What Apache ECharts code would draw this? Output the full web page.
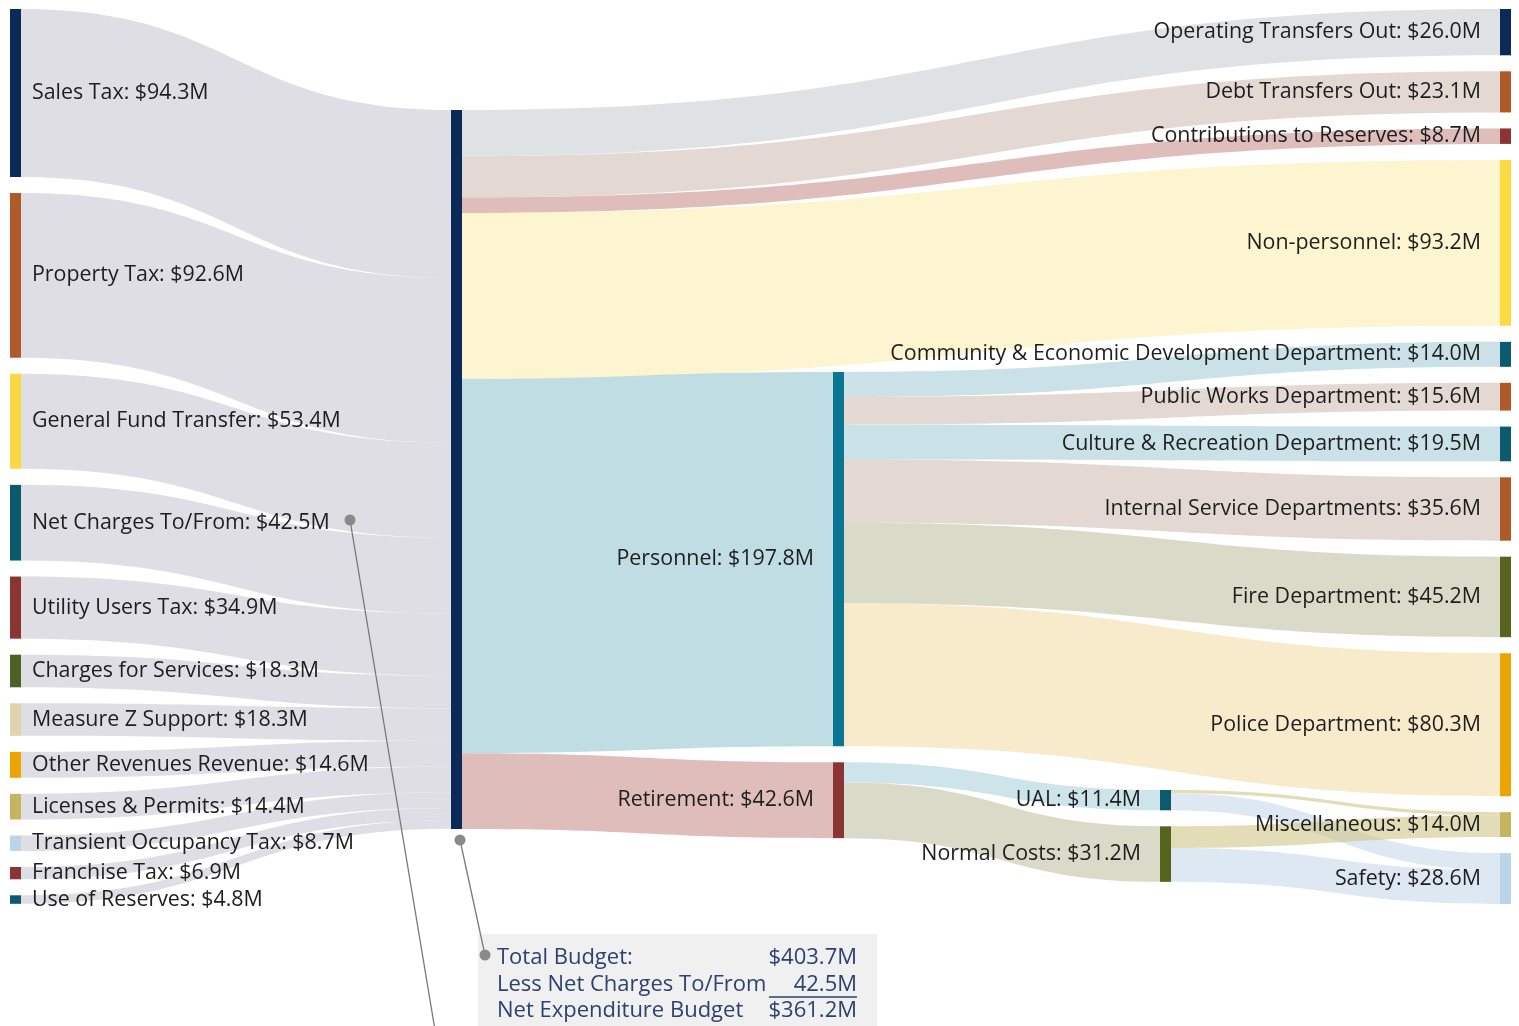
<!DOCTYPE html>
<html>
<head>
<meta charset="utf-8">
<title>Budget Sankey</title>
<script src="https://cdn.jsdelivr.net/npm/echarts@6/dist/echarts.min.js"></script>
<style>
  html, body { margin: 0; padding: 0; background: #fff; }
  #main { width: 1519px; height: 1026px; }
</style>
</head>
<body>
<div id="main"></div>
<script>
// revenue sources (left column)
const sources = ['Sales Tax', 'Property Tax', 'General Fund Transfer', 'Net Charges To/From',
  'Utility Users Tax', 'Charges for Services', 'Measure Z Support', 'Other Revenues Revenue',
  'Licenses & Permits', 'Transient Occupancy Tax', 'Franchise Tax', 'Use of Reserves']
const sourceValues = [94.3, 92.6, 53.4, 42.5, 34.9, 18.3, 18.3, 14.6, 14.4, 8.7, 6.9, 4.8]

// uses of the total budget
const uses = ['Operating Transfers Out', 'Debt Transfers Out', 'Contributions to Reserves',
  'Non-personnel', 'Personnel', 'Retirement']
const useValues = [26.0, 23.1, 8.7, 93.2, 210.2, 42.6] // flow widths
const useLabels = [26.0, 23.1, 8.7, 93.2, 197.8, 42.6] // amounts printed in labels

// personnel by department
const departments = ['Community & Economic Development Department', 'Public Works Department',
  'Culture & Recreation Department', 'Internal Service Departments', 'Fire Department', 'Police Department']
const departmentValues = [14.0, 15.6, 19.5, 35.6, 45.2, 80.3]

// retirement split
const retirementParts = ['UAL', 'Normal Costs']
const retirementValues = [11.4, 31.2]
const plans = ['Miscellaneous', 'Safety']
const planValues = [14.0, 28.6]
const ualToPlan = [1.8, 9.6]
const normalToPlan = [12.2, 19.0]

const TOTAL = 'Total Budget'

// ---- styles / layout ----
const chartLeft = 10
const chartTop = 9
const chartW = 1501
const chartH = 895
const gap = 16
const colPx = [10, 451, 833, 1160, 1500] // x of each column
const colTopPx = [0, 110, 372, 790, 0]    // where the first real node of a column starts

const nodeColor = {
  'Sales Tax': '#0c2a58', 'Property Tax': '#ae5a2a', 'General Fund Transfer': '#f9d842',
  'Net Charges To/From': '#0b5a6e', 'Utility Users Tax': '#8a3534', 'Charges for Services': '#4f6025',
  'Measure Z Support': '#e0d3ae', 'Other Revenues Revenue': '#eca500', 'Licenses & Permits': '#c6b461',
  'Transient Occupancy Tax': '#bcd4ea', 'Franchise Tax': '#8a3534', 'Use of Reserves': '#0b5a6e',
  'Total Budget': '#0c2a58',
  'Operating Transfers Out': '#0c2a58', 'Debt Transfers Out': '#ae5a2a', 'Contributions to Reserves': '#8a3534',
  'Non-personnel': '#fbd93f', 'Personnel': '#0b7594', 'Retirement': '#8a3534',
  'Community & Economic Development Department': '#0b5a6e', 'Public Works Department': '#ae5a2a',
  'Culture & Recreation Department': '#0b5a6e', 'Internal Service Departments': '#ae5a2a',
  'Fire Department': '#56641f', 'Police Department': '#eca500',
  'UAL': '#0b5a6e', 'Normal Costs': '#56641f', 'Miscellaneous': '#c6b461', 'Safety': '#bcd4ea'
}
// link colour by target (drawn with opacity 0.6)
const linkColor = {
  'Total Budget': '#c9c8d2',
  'Operating Transfers Out': '#cacfd4', 'Debt Transfers Out': '#d0beb4', 'Contributions to Reserves': '#ca918e',
  'Non-personnel': '#faeeaf', 'Personnel': '#96c6d2', 'Retirement': '#ca918e',
  'Community & Economic Development Department': '#a5cdd7', 'Public Works Department': '#d0beb4',
  'Culture & Recreation Department': '#a5cdd7', 'Internal Service Departments': '#d0beb4',
  'Fire Department': '#c0c1a2', 'Police Department': '#f3dea8',
  'UAL': '#acd2dc', 'Normal Costs': '#c0c1a2', 'Miscellaneous': '#cfc587', 'Safety': '#c6d9e9'
}

const sum = arr => arr.reduce((a, b) => a + b, 0)
// vertical scale used by the sankey (right column is the limiting one)
const rightCount = 4 + departments.length + plans.length
const rightSum = sum(useValues.slice(0, 4)) + sum(departmentValues) + sum(planValues)
const ky = (chartH - (rightCount - 1) * gap) / rightSum

// ---- build nodes and links ----
let nodes = []
let links = []
let labelAmount = {}

function addNode (name, depth, amount, side) {
  labelAmount[name] = amount
  nodes.push({
    name: name,
    depth: depth,
    localX: (colPx[depth] - chartLeft) / chartW,
    itemStyle: { color: nodeColor[name] },
    label: side ? { show: true, position: side, distance: side === 'right' ? 11 : 19 } : { show: false }
  })
}
// invisible padding node so a column starts lower down
function addPad (depth) {
  const v = (colTopPx[depth] - chartTop - gap) / ky
  nodes.push({
    name: '_pad' + depth,
    depth: depth,
    value: v,
    localX: (colPx[depth] - chartLeft) / chartW,
    itemStyle: { color: 'rgba(0,0,0,0)' },
    label: { show: false },
    silent: true
  })
}
function addLink (s, t, v) {
  links.push({ source: s, target: t, value: v, lineStyle: { color: linkColor[t] } })
}

sources.forEach((s, i) => addNode(s, 0, sourceValues[i], 'right'))
addPad(1)
addNode(TOTAL, 1, sum(sourceValues), null)
addPad(2)
addNode('Personnel', 2, useLabels[4], 'left')
addNode('Retirement', 2, useLabels[5], 'left')
addPad(3)
retirementParts.forEach((r, i) => addNode(r, 3, retirementValues[i], 'left'))
uses.slice(0, 4).forEach((u, i) => addNode(u, 4, useLabels[i], 'left'))
departments.forEach((d, i) => addNode(d, 4, departmentValues[i], 'left'))
plans.forEach((p, i) => addNode(p, 4, planValues[i], 'left'))

sources.forEach((s, i) => addLink(s, TOTAL, sourceValues[i]))
uses.forEach((u, i) => addLink(TOTAL, u, useValues[i]))
departments.forEach((d, i) => addLink('Personnel', d, departmentValues[i]))
retirementParts.forEach((r, i) => addLink('Retirement', r, retirementValues[i]))
plans.forEach((p, i) => addLink('UAL', p, ualToPlan[i]))
plans.forEach((p, i) => addLink('Normal Costs', p, normalToPlan[i]))

const totalBudget = sum(sourceValues)
const netCharges = sourceValues[3]
const netBudget = totalBudget - netCharges

const myChart = echarts.init(document.getElementById('main'))
const boxFont = '22px "Open Sans"'
const boxColor = '#2d4270'

let option = {
  backgroundColor: '#ffffff',
  animation: false,
  series: [
    {
      type: 'sankey',
      left: chartLeft,
      top: chartTop,
      width: chartW,
      height: chartH,
      nodeWidth: 11,
      nodeGap: gap,
      nodeAlign: 'left',
      layoutIterations: 0,
      draggable: false,
      emphasis: { disabled: true },
      data: nodes,
      links: links,
      lineStyle: { curveness: 0.5, opacity: 0.6 },
      label: {
        fontFamily: 'Open Sans',
        fontSize: 21.4,
        color: '#1e1e1e',
        formatter: function (p) {
          return p.name + ': $' + labelAmount[p.name].toFixed(1) + 'M'
        }
      }
    }
  ],
  graphic: [
    { type: 'rect', z: 50, shape: { x: 478, y: 934, width: 399, height: 92 }, style: { fill: '#f0f0f0' } },
    { type: 'line', z: 100, shape: { x1: 350, y1: 520, x2: 435, y2: 1030 }, style: { stroke: '#7a7a7a', lineWidth: 1.3 } },
    { type: 'circle', z: 101, shape: { cx: 350, cy: 520, r: 5.5 }, style: { fill: '#8a8a8a' } },
    { type: 'line', z: 100, shape: { x1: 460, y1: 840, x2: 485, y2: 955 }, style: { stroke: '#7a7a7a', lineWidth: 1.3 } },
    { type: 'circle', z: 101, shape: { cx: 460, cy: 840, r: 5.5 }, style: { fill: '#8a8a8a' } },
    { type: 'circle', z: 101, shape: { cx: 485, cy: 955, r: 5.5 }, style: { fill: '#8a8a8a' } },
    { type: 'text', z: 102, x: 497, y: 958, style: { text: 'Total Budget:', font: boxFont, fill: boxColor, textVerticalAlign: 'middle' } },
    { type: 'text', z: 102, x: 857, y: 958, style: { text: '$' + totalBudget.toFixed(1) + 'M', font: boxFont, fill: boxColor, textAlign: 'right', textVerticalAlign: 'middle' } },
    { type: 'text', z: 102, x: 497, y: 985, style: { text: 'Less Net Charges To/From', font: boxFont, fill: boxColor, textVerticalAlign: 'middle' } },
    { type: 'text', z: 102, x: 857, y: 985, style: { text: netCharges.toFixed(1) + 'M', font: boxFont, fill: boxColor, textAlign: 'right', textVerticalAlign: 'middle' } },
    { type: 'line', z: 102, shape: { x1: 769, y1: 997, x2: 857, y2: 997 }, style: { stroke: boxColor, lineWidth: 1.3 } },
    { type: 'text', z: 102, x: 497, y: 1011, style: { text: 'Net Expenditure Budget', font: boxFont, fill: boxColor, textVerticalAlign: 'middle' } },
    { type: 'text', z: 102, x: 857, y: 1011, style: { text: '$' + netBudget.toFixed(1) + 'M', font: boxFont, fill: boxColor, textAlign: 'right', textVerticalAlign: 'middle' } }
  ]
}
myChart.setOption(option)
</script>
</body>
</html>
